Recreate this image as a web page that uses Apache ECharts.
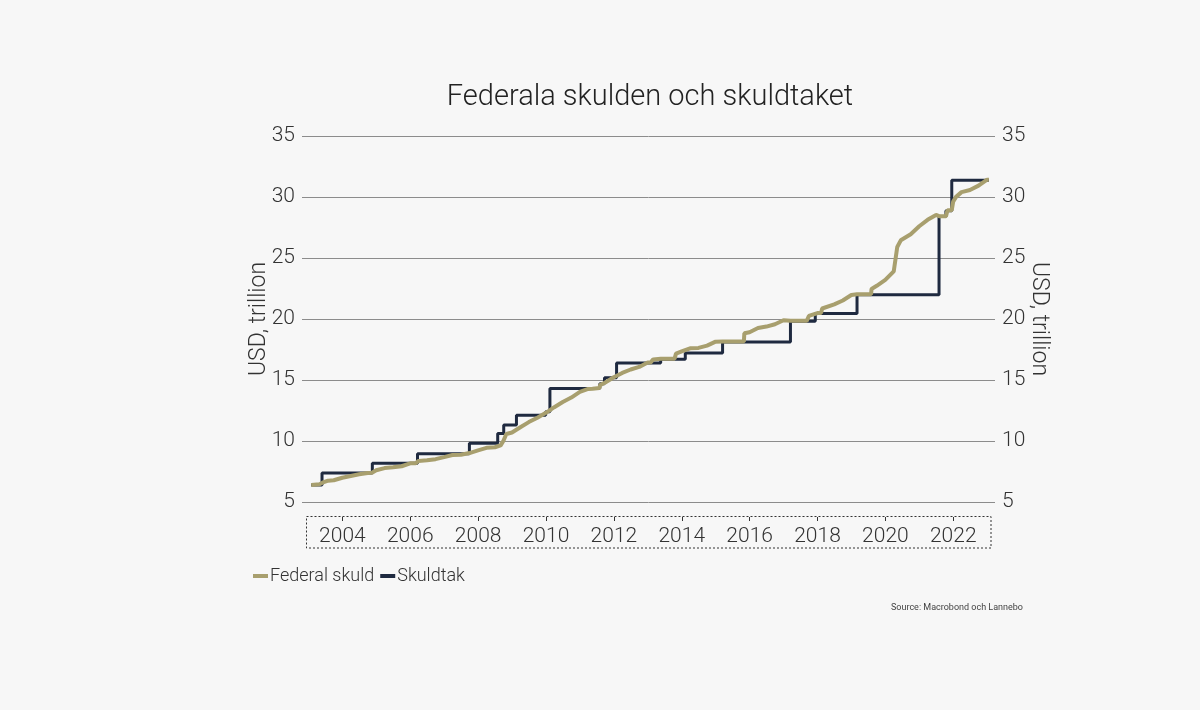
<!DOCTYPE html>
<html>
<head>
<meta charset="utf-8">
<script src="https://cdn.jsdelivr.net/npm/echarts@6/dist/echarts.min.js"></script>
<style>
html,body{margin:0;padding:0;background:#f7f7f7;}
#chart{width:1200px;height:710px;}
</style>
</head>
<body>
<div id="chart"></div>
<script>
// Federal debt (USD trillion)
var debtDates = ['2003-01-31','2003-04-30','2003-05-31','2003-07-31','2003-09-30','2003-12-31','2004-03-31','2004-06-30','2004-09-30','2004-11-15','2004-12-31','2005-03-31','2005-06-30','2005-09-30','2005-12-31','2006-02-28','2006-03-31','2006-06-30','2006-09-30','2006-12-31','2007-03-31','2007-06-30','2007-09-30','2007-12-31','2008-03-31','2008-06-30','2008-08-31','2008-09-30','2008-10-31','2008-12-31','2009-03-31','2009-06-30','2009-09-30','2009-12-31','2010-03-31','2010-06-30','2010-09-30','2010-12-31','2011-03-31','2011-05-16','2011-07-31','2011-08-05','2011-09-30','2011-12-31','2012-03-31','2012-06-30','2012-09-30','2012-12-31','2013-01-31','2013-02-28','2013-05-19','2013-10-16','2013-10-31','2013-12-31','2014-03-31','2014-06-30','2014-09-30','2014-12-31','2015-03-15','2015-10-31','2015-11-05','2015-12-31','2016-03-31','2016-06-30','2016-09-30','2016-12-31','2017-03-15','2017-09-07','2017-09-30','2017-12-31','2018-02-09','2018-02-20','2018-06-30','2018-09-30','2018-12-31','2019-03-01','2019-07-31','2019-08-05','2019-09-30','2019-12-31','2020-03-31','2020-05-08','2020-06-15','2020-09-30','2020-12-31','2021-03-31','2021-06-30','2021-08-01','2021-10-15','2021-10-31','2021-12-16','2021-12-31','2022-01-31','2022-03-31','2022-06-30','2022-09-30','2022-12-31','2023-01-19'];
var debtValues = [6.40,6.46,6.58,6.75,6.78,6.99,7.13,7.27,7.38,7.40,7.60,7.78,7.84,7.93,8.17,8.18,8.37,8.42,8.51,8.68,8.85,8.87,9.01,9.23,9.44,9.49,9.64,10.02,10.57,10.70,11.13,11.55,11.91,12.31,12.77,13.20,13.56,14.03,14.27,14.29,14.34,14.58,14.79,15.22,15.58,15.86,16.07,16.43,16.43,16.69,16.74,16.75,17.16,17.35,17.60,17.63,17.82,18.14,18.15,18.15,18.83,18.92,19.26,19.38,19.57,19.90,19.85,19.85,20.25,20.49,20.50,20.86,21.20,21.52,21.97,22.03,22.02,22.46,22.72,23.20,23.90,25.90,26.45,26.95,27.60,28.13,28.53,28.43,28.43,28.91,28.91,29.62,30.01,30.40,30.57,30.93,31.42,31.41];

// Debt ceiling (USD trillion)
var ceilingDates = ['2003-01-31','2003-05-27','2004-11-19','2006-03-20','2007-09-29','2008-07-30','2008-10-03','2009-02-17','2009-12-28','2010-02-12','2011-08-02','2011-09-22','2012-01-30','2013-05-19','2014-02-08','2015-03-16','2017-03-16','2017-12-08','2019-03-02','2021-08-01','2021-10-14','2021-12-16','2023-01-19'];
var ceilingValues = [6.400,7.384,8.184,8.965,9.815,10.615,11.315,12.104,12.394,14.294,14.694,15.194,16.394,16.699,17.212,18.113,19.809,20.456,21.988,28.401,28.881,31.381,31.381];

var xTickYears = [2004,2006,2008,2010,2012,2014,2016,2018,2020,2022];
var yTicks = [5,10,15,20,25,30,35];

function toYear(s){
  var p = s.split('-');
  var y = +p[0];
  var t = Date.UTC(y, +p[1]-1, +p[2]);
  var a = Date.UTC(y,0,1), b = Date.UTC(y+1,0,1);
  return y + (t-a)/(b-a);
}
function pairs(dates, vals){
  return dates.map(function(d,i){ return [toYear(d), vals[i]]; });
}

var FONT = 'Roboto';
var chart = echarts.init(document.getElementById('chart'), null, {renderer:'canvas'});
var yAxisCommon = {
  type:'value', min:yTicks[0], max:yTicks[yTicks.length-1], interval:5,
  axisLine:{show:false}, axisTick:{show:false},
  nameLocation:'middle', nameMoveOverlap:false,
  nameTextStyle:{fontFamily:FONT, fontWeight:300, fontSize:23, color:'#333'},
  axisLabel:{fontFamily:FONT, fontWeight:300, fontSize:21, color:'#333', margin:7}
};
chart.setOption({
  backgroundColor:'#f7f7f7',
  animation:false,
  title:[{
    text:'Federala skulden och skuldtaket',
    left:645, textAlign:'center', top:78,
    textStyle:{fontFamily:FONT, fontWeight:300, fontSize:29, color:'#222'}
  },{
    text:'Source: Macrobond och Lannebo',
    right:172, top:598,
    textStyle:{fontFamily:FONT, fontWeight:400, fontSize:9, color:'#444'}
  }],
  legend:{
    left:248, top:562, itemWidth:15, itemHeight:4, itemGap:6, icon:'rect',
    data:['Federal skuld','Skuldtak'],
    textStyle:{fontFamily:FONT, fontWeight:300, fontSize:18, color:'#333', padding:[0,0,0,-3]}
  },
  grid:{left:302, right:205, top:136, bottom:208},
  xAxis:{
    type:'value', min:2002.81, max:2023.23, offset:15,
    axisLine:{show:false}, splitLine:{show:false},
    axisTick:{show:true, length:4, customValues:xTickYears, lineStyle:{color:'#333'}},
    axisLabel:{customValues:xTickYears, formatter:function(v){return String(Math.round(v));},
      fontFamily:FONT, fontWeight:300, fontSize:21, color:'#333', margin:9}
  },
  yAxis:[
    Object.assign({}, yAxisCommon, {position:'left', name:'USD, trillion', nameGap:31,
      splitLine:{show:true, lineStyle:{color:'#8c8c8c', width:1}}}),
    Object.assign({}, yAxisCommon, {position:'right', name:'USD, trillion', nameRotate:-90, nameGap:32,
      splitLine:{show:false}})
  ],
  graphic:[{
    type:'rect', silent:true,
    shape:{x:306.5, y:516.5, width:684.5, height:31.5},
    style:{fill:'none', stroke:'#333', lineWidth:1, lineDash:[2,2]}
  }],
  series:[{
    name:'Skuldtak', type:'line', step:'end', showSymbol:false,
    data:pairs(ceilingDates, ceilingValues),
    lineStyle:{color:'#1f2a40', width:3}, itemStyle:{color:'#1f2a40'}, z:2
  },{
    name:'Federal skuld', type:'line', showSymbol:false,
    data:pairs(debtDates, debtValues),
    lineStyle:{color:'#a89f6e', width:4}, itemStyle:{color:'#a89f6e'}, z:3
  }]
});
</script>
</body>
</html>
